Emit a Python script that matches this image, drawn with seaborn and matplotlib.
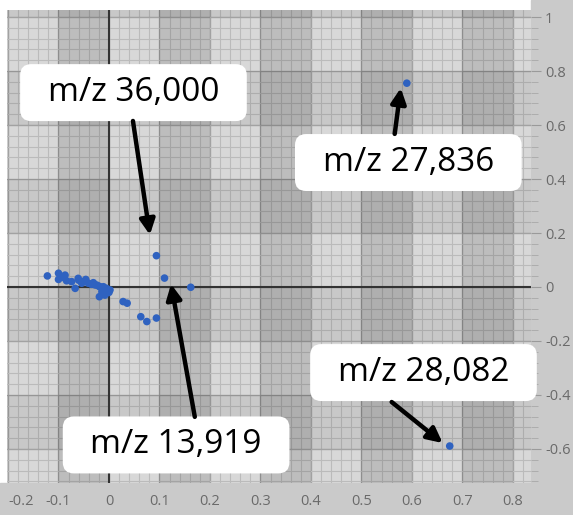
import numpy as np
import matplotlib.pyplot as plt
import seaborn as sns
from matplotlib.patches import FancyBboxPatch, Rectangle
from matplotlib.ticker import MultipleLocator, FuncFormatter

# loadings
pc1 = [-0.122, -0.100, -0.100, -0.090, -0.087, -0.084, -0.074, -0.067, -0.061, -0.060,
       -0.054, -0.050, -0.046, -0.041, -0.035, -0.031, -0.028, -0.024, -0.020, -0.018,
       -0.014, -0.012, -0.011, -0.008, -0.005, -0.003, 0.000, 0.002, -0.019,
       0.028, 0.036, 0.063, 0.075, 0.094, 0.094, 0.110, 0.162, 0.590, 0.675]
pc2 = [0.041, 0.051, 0.028, 0.035, 0.044, 0.023, 0.020, -0.005, 0.032, 0.025,
       0.014, 0.020, 0.028, 0.014, 0.010, 0.016, 0.008, 0.007, 0.003, 0.001,
       -0.017, -0.008, 0.001, -0.030, -0.005, -0.015, -0.020, -0.011, -0.036,
       -0.054, -0.060, -0.110, -0.128, -0.115, 0.116, 0.033, -0.001, 0.755, -0.589]

x_ticks = [-0.2, -0.1, 0, 0.1, 0.2, 0.3, 0.4, 0.5, 0.6, 0.7, 0.8]
y_ticks = [-0.6, -0.4, -0.2, 0, 0.2, 0.4, 0.6, 0.8, 1.0]

# call-out labels: box centre, arrow tail and arrow head
label_text = ["m/z 36,000", "m/z 27,836", "m/z 28,082", "m/z 13,919"]
label_x = [0.0485, 0.593, 0.623, 0.133]
label_y = [0.720, 0.461, -0.317, -0.585]
tail_x = [0.0475, 0.566, 0.560, 0.170]
tail_y = [0.615, 0.567, -0.426, -0.481]
head_x = [0.081, 0.578, 0.661, 0.123]
head_y = [0.193, 0.737, -0.578, 0.011]

sns.set_style("white")
plt.rcParams['font.family'] = ['Open Sans', 'DejaVu Sans']

fig = plt.figure(figsize=(5.73, 5.15), dpi=100, facecolor='white')
ax = fig.add_axes([7/573, 32/515, 524/573, 473/515])
ax.set_xlim(-0.202, 0.836)
ax.set_ylim(-0.726, 1.026)
ax.set_facecolor('#d8d8d8')

# gray strips behind the tick labels
fig.add_artist(Rectangle((0, 0), 1, 32/515, transform=fig.transFigure,
                         color='#cacaca', zorder=-1))
fig.add_artist(Rectangle((531/573, 0), 1 - 531/573, 1, transform=fig.transFigure,
                         color='#cacaca', zorder=-1))

# checkerboard bands
for x0 in [-0.1, 0.1, 0.3, 0.5, 0.7]:
    ax.axvspan(x0, x0 + 0.1, color='black', alpha=0.12, lw=0, zorder=1)
for y0 in [-0.6, -0.2, 0.2, 0.6, 1.0]:
    ax.axhspan(y0, y0 + 0.2, color='black', alpha=0.07, lw=0, zorder=1)

ax.set_xticks(x_ticks)
ax.set_yticks(y_ticks)
ax.xaxis.set_minor_locator(MultipleLocator(0.02))
ax.yaxis.set_minor_locator(MultipleLocator(0.04))
ax.set_axisbelow(True)
ax.grid(which='major', color='#a2a2a2', lw=1.0)
ax.grid(which='minor', color='#bbbbbb', lw=0.8)

fmt = FuncFormatter(lambda v, p: f"{round(v, 2) + 0:g}")
ax.xaxis.set_major_formatter(fmt)
ax.yaxis.set_major_formatter(fmt)
ax.yaxis.tick_right()
ax.tick_params(axis='both', which='major', length=7, color='#9a9a9a',
               labelcolor='#6a6a6a', labelsize=10.5)
ax.tick_params(axis='both', which='minor', length=5, color='#a8a8a8')
ax.tick_params(axis='x', pad=1)
ax.tick_params(axis='y', pad=3)
ax.get_xticklabels()[0].set_horizontalalignment('left')
for s in ax.spines.values():
    s.set_visible(False)

ax.axhline(0, color='#333333', lw=1.5, zorder=2)
ax.axvline(0, color='#333333', lw=1.5, zorder=2)

sns.scatterplot(x=pc1, y=pc2, ax=ax, color='#2f62c0', s=30, edgecolor='none', zorder=4)

aspect = 505 / 270
bw, bh = 0.449, 0.211
for t, cx, cy in zip(label_text, label_x, label_y):
    box = FancyBboxPatch((cx - bw/2, cy - bh/2), bw, bh,
                         boxstyle='round,pad=0,rounding_size=0.022',
                         mutation_aspect=aspect, fc='white', ec='none',
                         zorder=5, clip_on=False)
    ax.add_patch(box)
    ax.text(cx, cy, t, ha='center', va='center', fontsize=24, color='black', zorder=6)

for tx, ty, hx, hy in zip(tail_x, tail_y, head_x, head_y):
    ax.annotate('', xy=(hx, hy), xytext=(tx, ty),
                arrowprops=dict(arrowstyle='-|>,head_length=0.9,head_width=0.45',
                                color='black', lw=3.2, shrinkA=0, shrinkB=0),
                zorder=7)

plt.savefig('out.png', dpi=100, facecolor=fig.get_facecolor())
